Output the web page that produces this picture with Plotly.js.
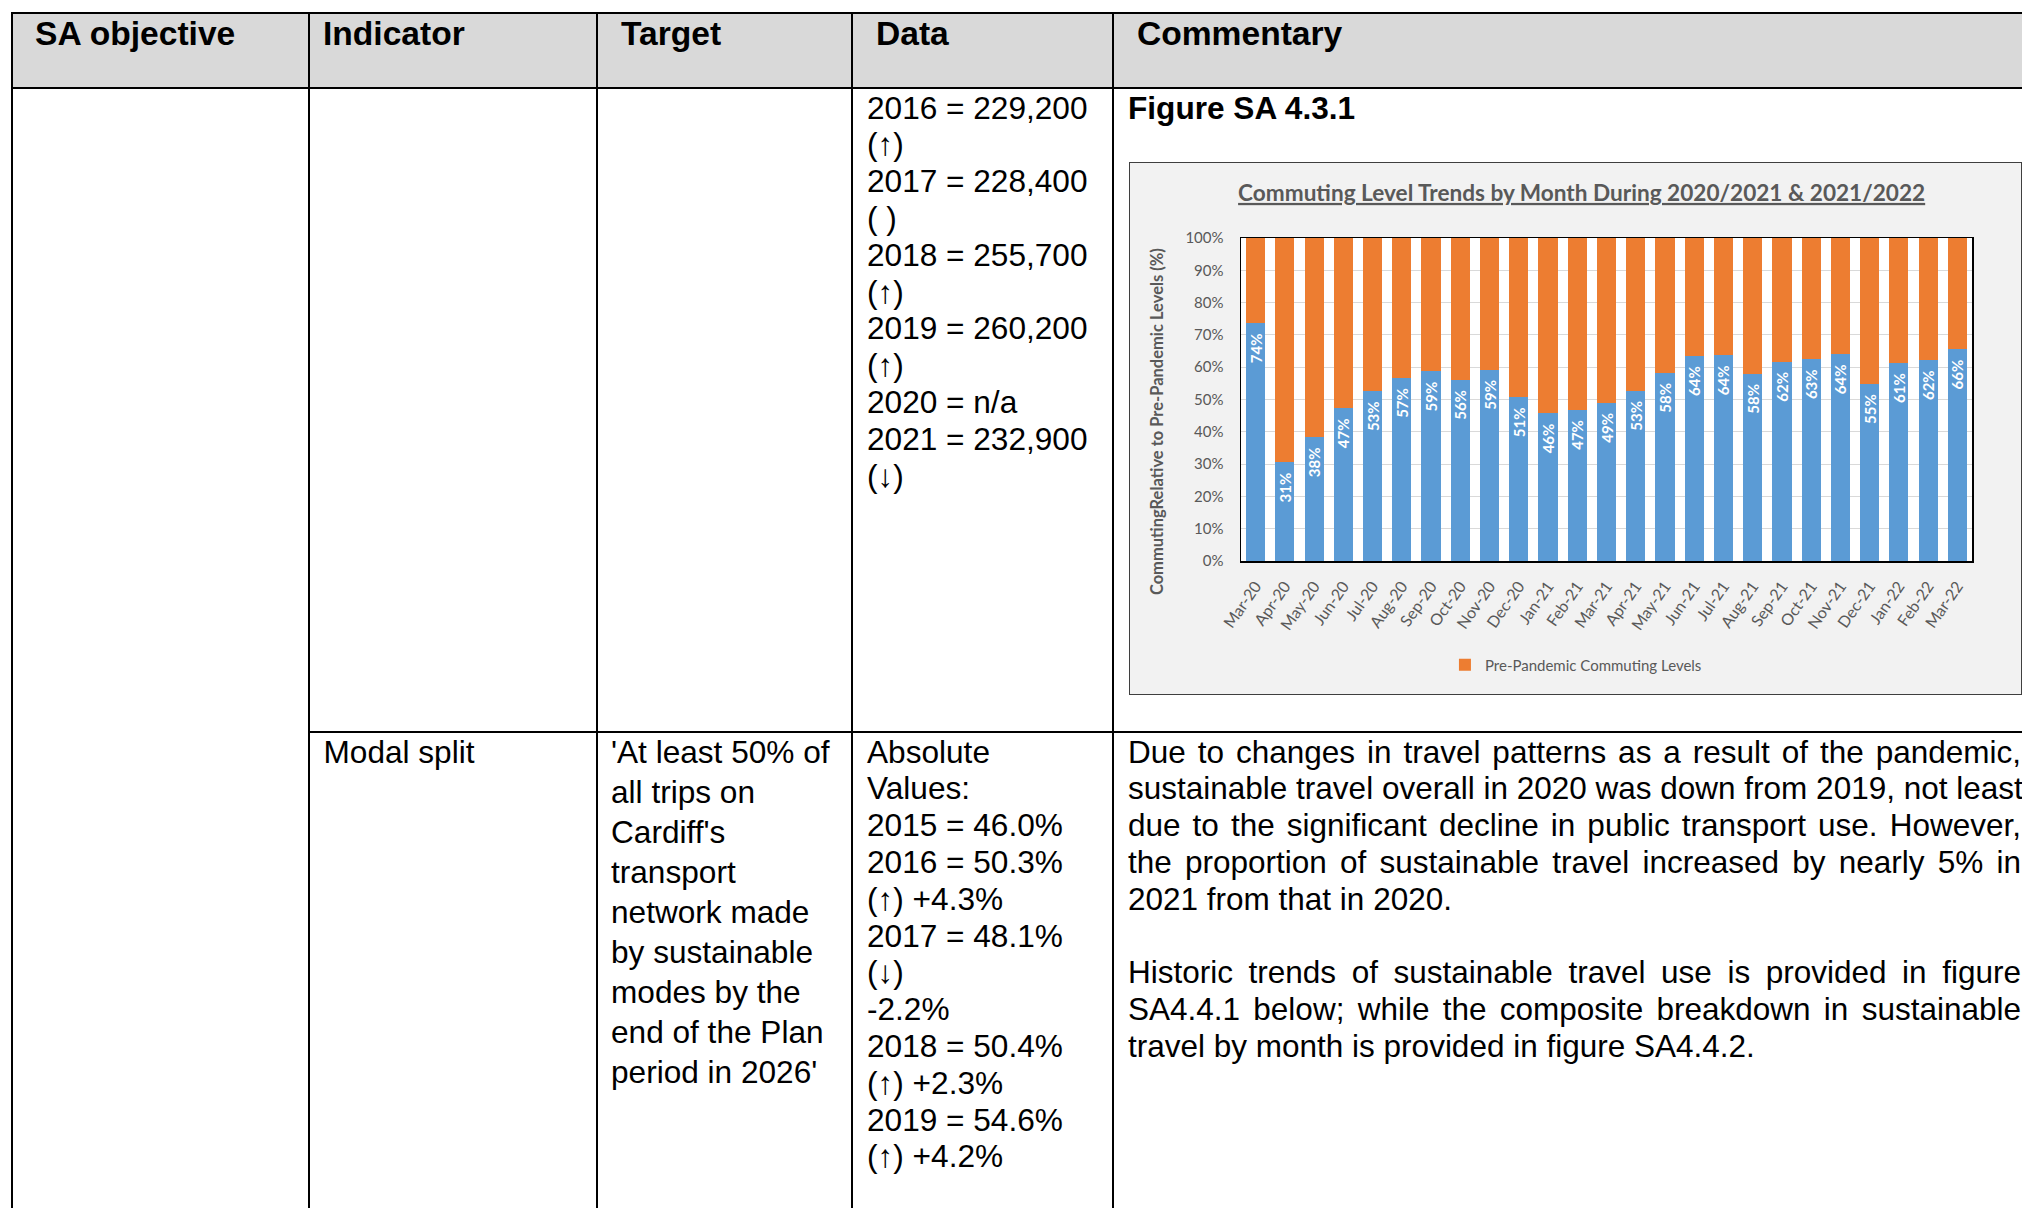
<!DOCTYPE html>
<html>
<head>
<meta charset="utf-8">
<script src="https://cdn.plot.ly/plotly-3.0.1.min.js"></script>
<style>
html,body{margin:0;padding:0;background:#fff;}
#page{position:relative;width:2022px;height:1208px;overflow:hidden;font-family:'Liberation Sans',Arial,sans-serif;color:#000;background:#fff;}
.ln{position:absolute;background:#000;}
.tx{position:absolute;font-size:31.6px;line-height:36.8px;white-space:nowrap;}
.h{position:absolute;font-size:33.6px;line-height:36.8px;white-space:nowrap;font-weight:bold;}
.b{font-weight:bold;}
.jst{position:absolute;font-size:31.5px;line-height:36.8px;width:893px;}
.jst .j{white-space:nowrap;text-align:justify;text-align-last:justify;}
.jst .l{white-space:nowrap;text-align:left;}
.jst .gap{height:36.8px;}
#hdr{position:absolute;left:12px;top:13px;width:2030px;height:75px;background:#d9d9d9;}
#chartbox{position:absolute;left:1129px;top:162px;width:893px;height:533px;border:1px solid #3f3f3f;box-sizing:border-box;background:#f2f2f2;}
#chart{position:absolute;left:0;top:0;width:891px;height:531px;}
</style>
</head>
<body>
<div id="page">
  <div id="hdr"></div>
  <!-- table rules -->
  <div class="ln" style="left:11px;top:12px;width:2040px;height:2px;"></div>
  <div class="ln" style="left:11px;top:87px;width:2040px;height:2px;"></div>
  <div class="ln" style="left:308px;top:731px;width:1740px;height:2px;"></div>
  <div class="ln" style="left:11px;top:12px;width:2px;height:1200px;"></div>
  <div class="ln" style="left:308px;top:12px;width:2px;height:1200px;"></div>
  <div class="ln" style="left:596px;top:12px;width:2px;height:1200px;"></div>
  <div class="ln" style="left:851px;top:12px;width:2px;height:1200px;"></div>
  <div class="ln" style="left:1112px;top:12px;width:2px;height:1200px;"></div>

  <!-- header -->
  <div class="h" style="left:35px;top:15.5px;">SA objective</div>
  <div class="h" style="left:323px;top:15.5px;">Indicator</div>
  <div class="h" style="left:621px;top:15.5px;">Target</div>
  <div class="h" style="left:876px;top:15.5px;">Data</div>
  <div class="h" style="left:1137px;top:15.5px;">Commentary</div>

  <!-- row 1 -->
  <div class="tx" style="left:867px;top:89.6px;">2016 = 229,200<br>(↑)<br>2017 = 228,400<br>( )<br>2018 = 255,700<br>(↑)<br>2019 = 260,200<br>(↑)<br>2020 = n/a<br>2021 = 232,900<br>(↓)</div>
  <div class="tx b" style="left:1128px;top:89.6px;">Figure SA 4.3.1</div>

  <div id="chartbox"><div id="chart"></div></div>

  <!-- row 2 -->
  <div class="tx" style="left:323.5px;top:733.6px;">Modal split</div>
  <div class="tx" style="left:611px;top:732px;line-height:40px;">'At least 50% of<br>all trips on<br>Cardiff's<br>transport<br>network made<br>by sustainable<br>modes by the<br>end of the Plan<br>period in 2026'</div>
  <div class="tx" style="left:867px;top:733.6px;">Absolute<br>Values:<br>2015 = 46.0%<br>2016 = 50.3%<br>(↑) +4.3%<br>2017 = 48.1%<br>(↓)<br>-2.2%<br>2018 = 50.4%<br>(↑) +2.3%<br>2019 = 54.6%<br>(↑) +4.2%</div>
  <div class="jst" style="left:1128px;top:733.6px;">
    <div class="j">Due to changes in travel patterns as a result of the pandemic,</div>
    <div class="j">sustainable travel overall in 2020 was down from 2019, not least</div>
    <div class="j">due to the significant decline in public transport use. However,</div>
    <div class="j">the proportion of sustainable travel increased by nearly 5% in</div>
    <div class="l">2021 from that in 2020.</div>
    <div class="gap"></div>
    <div class="j">Historic trends of sustainable travel use is provided in figure</div>
    <div class="j">SA4.4.1 below; while the composite breakdown in sustainable</div>
    <div class="l">travel by month is provided in figure SA4.4.2.</div>
  </div>
</div>

<script>
// ---- Chart data ----
const months = ['Mar-20','Apr-20','May-20','Jun-20','Jul-20','Aug-20','Sep-20','Oct-20','Nov-20','Dec-20',
                'Jan-21','Feb-21','Mar-21','Apr-21','May-21','Jun-21','Jul-21','Aug-21','Sep-21','Oct-21',
                'Nov-21','Dec-21','Jan-22','Feb-22','Mar-22'];
const commutingRelative = [73.6,30.5,38.3,47.3,52.6,56.7,58.7,56.1,59.2,50.7,
                           45.7,46.8,49.0,52.7,58.3,63.5,63.7,58.0,61.7,62.5,
                           64.0,54.8,61.3,62.2,65.5];
const prePandemicRemainder = [26.4,69.5,61.7,52.7,47.4,43.3,41.3,43.9,40.8,49.3,
                              54.3,53.2,51.0,47.3,41.7,36.5,36.3,42.0,38.3,37.5,
                              36.0,45.2,38.7,37.8,34.5];
const yTicks = [0,10,20,30,40,50,60,70,80,90,100];
const yTickLabels = ['0%','10%','20%','30%','40%','50%','60%','70%','80%','90%','100%'];
const chartTitle = 'Commuting Level Trends by Month During 2020/2021 &amp; 2021/2022';
const yTitle = 'CommutingRelative to Pre-Pandemic Levels (%)';
const legendName = 'Pre-Pandemic Commuting Levels';

const labels = commutingRelative.map(v => Math.round(v) + '%');
const grey = '#595959';
const FONT = 'Lato, "Open Sans", sans-serif';

const traces = [
  {
    type: 'bar', x: months, y: commutingRelative, name: 'Commuting Levels',
    showlegend: false,
    marker: {color: '#5b9bd5'},
    text: labels, texttemplate: '%{text}\u00a0\u00a0',
    textposition: 'inside', insidetextanchor: 'end', textangle: -90,
    constraintext: 'none',
    textfont: {family: FONT, size: 15, color: '#ffffff', weight: 'bold'},
    hoverinfo: 'none'
  },
  {
    type: 'bar', x: months, y: prePandemicRemainder, name: legendName,
    marker: {color: '#ed7d31'},
    hoverinfo: 'none'
  }
];

const layout = {
  width: 891, height: 531,
  margin: {l: 111, r: 49, t: 75, b: 128, pad: 0},
  paper_bgcolor: '#f2f2f2', plot_bgcolor: '#ffffff',
  barmode: 'stack', bargap: 0.345,
  font: {family: FONT, color: grey},
  title: {
    text: '<u>' + chartTitle + '</u>',
    font: {family: FONT, size: 22.6, color: grey, weight: 'bold'},
    xref: 'paper', x: 0.466, xanchor: 'center',
    yref: 'container', y: 1 - 30/531, yanchor: 'middle'
  },
  xaxis: {
    type: 'category', tickangle: -55,
    tickfont: {family: FONT, size: 16, color: grey},
    showline: true, linecolor: '#000', linewidth: 1.5, mirror: true,
    ticks: '', ticklabelstandoff: 8, showgrid: false
  },
  yaxis: {
    range: [0, 100], tickmode: 'array', tickvals: yTicks, ticktext: yTickLabels,
    tickfont: {family: FONT, size: 15, color: grey},
    showline: true, linecolor: '#000', linewidth: 1.5, mirror: true,
    showgrid: true, gridcolor: '#d9d9d9', gridwidth: 1, zeroline: false,
    ticks: '', ticklabelstandoff: 13
  },
  annotations: [{
    text: '<b>' + yTitle + '</b>', textangle: -90,
    xref: 'paper', yref: 'paper', x: (1157 - 1241) / 731, y: 0.43,
    xanchor: 'center', yanchor: 'middle', showarrow: false,
    font: {family: FONT, size: 16.5, color: grey}
  }],
  legend: {
    orientation: 'h', x: 0.279, xanchor: 'left', y: -0.322, yanchor: 'middle',
    font: {family: FONT, size: 15, color: grey}, bgcolor: 'rgba(0,0,0,0)'
  }
};

Plotly.newPlot('chart', traces, layout, {displayModeBar: false, staticPlot: true});
</script>
</body>
</html>
